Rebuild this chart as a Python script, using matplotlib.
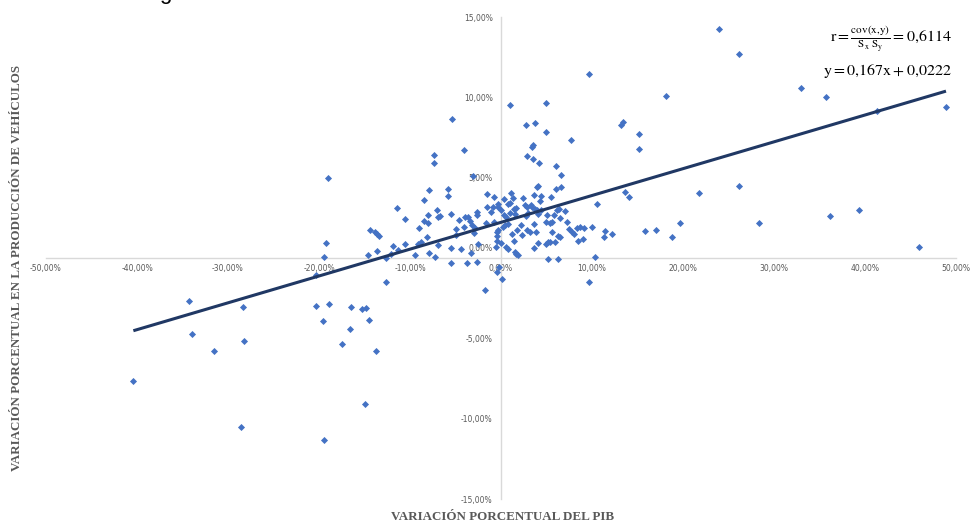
import matplotlib
matplotlib.use("Agg")
import matplotlib.pyplot as plt
import matplotlib.transforms as mtransforms
from matplotlib.ticker import FuncFormatter

# variación % del PIB (x) y de la producción de vehículos (y), en %
pib = [
    -40.4, -34.3, -34.0, -31.5, -28.4, -28.2, -28.6, -20.3, -18.9, -19.6,
    -16.5, -15.3, -14.8, -14.5, -16.6, -17.5, -13.7, -14.9, -19.5, -12.6,
    -19.0, -19.2, -19.5, -20.3,
    -5.35, -4.03, -7.36, -7.36, -3.04, -7.95, -5.8, -5.8, -1.5, -0.77,
    -8.46, -11.46, -7.0, -5.5, -8.0, -2.6, -10.5, -8.46, -8.0, -6.9,
    -6.7, -4.6, -3.96, -3.6, -4.07, -3.37, -3.19, -2.9, -2.67, -1.68,
    -0.77, -1.13, -0.91, -1.54, -0.33, -0.44, -9.0, -8.1, -4.9, -5.0,
    -3.0, -14.4, -13.85, -13.6, -13.4, -11.9, -10.5, -9.15, -8.8, -6.96,
    -5.5, -4.4, -2.5, -0.55, -11.35, -13.6, -14.65, -12.1, -9.45, -7.9,
    -7.2, -3.3, -5.5, -3.7, -2.6, -12.6, -1.76, -0.47,
    1.02, 4.98, 18.1, 2.7, 3.7, 13.2, 13.4, 4.9, 15.2, 7.66,
    15.2, 3.44, 3.55, 2.9, 3.55, 4.18, 6.08, 6.63, 4.0, 4.1,
    6.08, 6.63, 13.67, 14.1, 1.1, 0.36, 1.28, 2.4, 3.66, 4.36,
    5.5, 4.3, 10.5, -0.36, 0.0, 0.73, 0.96, 1.47, 1.6, 2.64,
    2.9, 3.26, 3.4, 3.74, 4.0, 4.36, 4.1, 5.0, 5.8, 6.2,
    6.4, 7.07, 6.45, 7.3, 0.36, 0.55, 0.73, 1.0, 1.54, 2.75,
    3.0, 3.6, 2.16, 0.22, 0.44, -0.36, -0.44, 1.8, 1.17, 2.27,
    2.9, 3.15, 3.85, 4.98, 5.35, 5.6, 5.64, 6.3, 6.5, 7.44,
    7.84, 8.0, 8.35, 8.7, 9.15, 10.0, 11.46, 11.35, 12.16, 15.8,
    17.0, 18.76, 9.05, 8.5, 0.0, 0.55, 0.8, 1.43, 1.5, 1.68,
    1.87, 3.6, 4.07, 4.95, 5.2, 5.38, 5.97, 5.13, 6.23, 10.36,
    9.7, -0.22, -0.4, 0.07, 9.67,
    24.0, 26.2, 32.97, 35.7, 41.35, 48.9, 21.8, 26.1, 19.7, 28.3,
    36.15, 39.3, 45.9,
]
vehiculos = [
    -7.65, -2.68, -4.75, -5.8, -3.05, -5.17, -10.5, -2.99, -2.88, -3.92,
    -3.05, -3.15, -3.09, -3.88, -4.4, -5.37, -5.79, -9.1, -11.3, -1.47,
    5.0, 0.95, 0.06, -1.08,
    8.67, 6.7, 6.39, 5.91, 5.12, 4.25, 4.31, 3.88, 4.0, 3.8,
    3.59, 3.13, 2.99, 2.72, 2.7, 2.84, 2.41, 2.3, 2.18, 2.55,
    2.61, 2.34, 2.57, 2.55, 1.91, 2.3, 2.05, 1.87, 2.66, 2.18,
    2.22, 2.88, 3.15, 3.2, 3.36, 1.62, 1.87, 1.31, 1.82, 1.45,
    1.56, 1.74, 1.62, 1.47, 1.35, 0.77, 0.87, 0.87, 0.98, 0.81,
    0.64, 0.58, 0.87, 0.68, 0.48, 0.42, 0.17, 0.23, 0.17, 0.31,
    0.06, 0.31, -0.31, -0.31, -0.25, 0.0, -1.97, 1.08,
    9.54, 9.63, 10.1, 8.3, 8.4, 8.3, 8.44, 7.83, 7.72, 7.34,
    6.78, 6.93, 7.01, 6.37, 6.16, 5.91, 5.7, 5.18, 4.42, 4.48,
    4.29, 4.4, 4.1, 3.78, 4.06, 3.65, 3.73, 3.73, 3.94, 3.84,
    3.81, 3.53, 3.36, 3.19, 2.99, 3.34, 3.42, 3.03, 3.09, 3.3,
    3.19, 3.3, 3.17, 3.07, 2.99, 2.97, 2.72, 2.68, 2.66, 2.97,
    3.07, 2.9, 2.51, 2.24, 2.68, 2.55, 2.13, 2.8, 2.74, 2.63,
    2.8, 2.13, 2.05, 1.95, 2.05, 1.76, 1.37, 1.74, 1.49, 1.41,
    1.74, 1.62, 1.6, 2.22, 2.16, 2.22, 1.6, 1.39, 1.33, 1.78,
    1.62, 1.49, 1.87, 1.95, 1.87, 1.91, 1.7, 1.31, 1.47, 1.66,
    1.72, 1.33, 1.2, 1.04, 0.95, 0.7, 0.58, 1.06, 0.35, 0.27,
    0.21, 0.64, 0.93, 0.89, 1.0, 1.02, 0.98, -0.04, -0.08, 0.06,
    -1.49, -0.54, -0.85, -1.33, 11.45,
    14.25, 12.7, 10.6, 10.0, 9.15, 9.38, 4.04, 4.46, 2.18, 2.18,
    2.63, 3.0, 0.68,
]

pendiente = 0.167
intercepto = 2.22  # 0,0222 expresado en %
r_texto = r"$\mathrm{r} = \frac{\mathrm{cov(x{,}y)}}{\mathrm{S_x\ S_y}} = 0{,}6114$"
recta_texto = r"$\mathrm{y} = 0{,}167\mathrm{x} + 0{,}0222$"

x_ticks = list(range(-50, 51, 10))
y_ticks = list(range(-15, 16, 5))

plt.rcParams["mathtext.fontset"] = "stix"
plt.rcParams["font.family"] = ["DejaVu Sans"]

fig = plt.figure(figsize=(9.74, 5.26), dpi=100)
fig.patch.set_facecolor("white")
ax = fig.add_axes([46 / 974, 27 / 526, 910 / 974, 482 / 526])
ax.set_facecolor("white")

ax.scatter(pib, vehiculos, marker="D", s=13, color="#4472C4", linewidths=0, zorder=3)

x0, x1 = min(pib), max(pib)
ax.plot([x0, x1], [pendiente * x0 + intercepto, pendiente * x1 + intercepto],
        color="#203864", lw=2.2, solid_capstyle="butt", zorder=4)

ax.set_xlim(-50, 50)
ax.set_ylim(-15, 15)
ax.set_xticks(x_ticks)
ax.set_yticks(y_ticks)
pct = FuncFormatter(lambda v, p: f"{v:.2f}%".replace(".", ","))
ax.xaxis.set_major_formatter(pct)
ax.yaxis.set_major_formatter(pct)

for side in ["top", "right"]:
    ax.spines[side].set_visible(False)
for side in ["left", "bottom"]:
    ax.spines[side].set_position(("data", 0))
    ax.spines[side].set_color("#d9d9d9")
    ax.spines[side].set_linewidth(1)

ax.tick_params(axis="both", length=0, labelsize=5.5, labelcolor="#595959")
ax.tick_params(axis="x", pad=4)
ax.tick_params(axis="y", pad=6)

# la etiqueta 0,00% del eje vertical va algo más arriba
for lab in ax.get_yticklabels():
    if lab.get_text().startswith("0,00"):
        lab.set_transform(lab.get_transform()
                          + mtransforms.ScaledTranslation(0, 10 / 100, fig.dpi_scale_trans))

ax.text(0.995, 0.955, r_texto, transform=ax.transAxes, ha="right", va="center",
        fontsize=11.5, color="black")
ax.text(0.995, 0.888, recta_texto, transform=ax.transAxes, ha="right", va="center",
        fontsize=11.5, color="black")

serif = ["Liberation Serif", "DejaVu Serif"]
fig.text(503 / 974, 1 - 517 / 526, "VARIACIÓN PORCENTUAL DEL PIB", ha="center", va="center",
         fontsize=9.4, fontweight="bold", color="#595959", family=serif)
fig.text(17 / 974, 1 - 268 / 526, "VARIACIÓN PORCENTUAL EN LA PRODUCCIÓN DE VEHÍCULOS",
         ha="center", va="center", rotation=90, fontsize=9.4, fontweight="bold",
         color="#595959", family=serif)

# resto de un título recortado arriba: solo asoma el rabo de la "g"
fig.text(165 / 974, 1.0 + 1 / 526, "g", ha="center", va="baseline", fontsize=16, color="black",
         family=["Liberation Sans", "DejaVu Sans"])

fig.savefig("out.png", dpi=100, facecolor="white")
